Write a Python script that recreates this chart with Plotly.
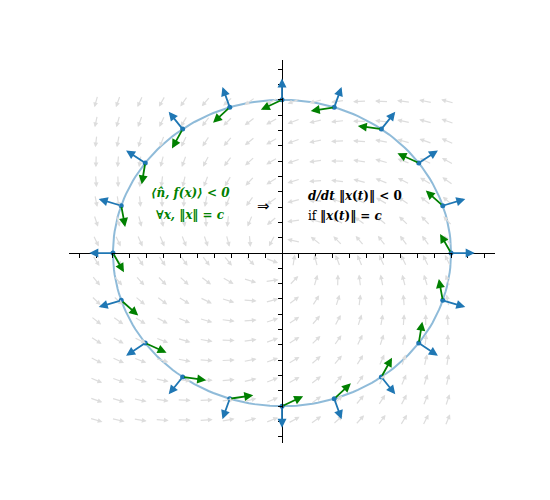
import numpy as np
import plotly.graph_objects as go

# linear field f(x) = A x, A = [[-a,-b],[b,-a]]
a_coef = 0.065
b_coef = 0.125
n_points = 20
normal_len = 0.14
grid_x = [-1.1, -0.97, -0.84, -0.71, -0.58, -0.45, -0.32, -0.19, -0.06, 0.07, 0.2, 0.33, 0.46, 0.59, 0.72, 0.85, 0.98]
grid_y = [0.99, 0.86, 0.73, 0.6, 0.47, 0.34, 0.21, 0.08, -0.05, -0.18, -0.31, -0.44, -0.57, -0.7, -0.83, -0.96, -1.09]
gray_len = 0.08

def f(x, y):
    return (-a_coef * x - b_coef * y, b_coef * x - a_coef * y)

fig = go.Figure()
ann = []
for gx in grid_x:
    for gy in grid_y:
        u, v = f(gx, gy)
        n = np.hypot(u, v)
        u, v = u / n * gray_len, v / n * gray_len
        ann.append(dict(x=gx + u / 2, y=gy + v / 2, ax=gx - u / 2, ay=gy - v / 2,
                        xref="x", yref="y", axref="x", ayref="y", text="",
                        showarrow=True, arrowhead=2, arrowsize=0.8, arrowwidth=1.2,
                        arrowcolor="#dddddd"))

t = np.linspace(0, 2 * np.pi, 200)
fig.add_trace(go.Scatter(x=np.cos(t), y=np.sin(t), mode="lines",
                         line=dict(color="rgba(31,119,180,0.5)", width=2), hoverinfo="skip"))
th = np.arange(n_points) * 2 * np.pi / n_points
px, py = np.cos(th), np.sin(th)
for x0, y0 in zip(px, py):
    ann.append(dict(x=x0 * (1 + normal_len), y=y0 * (1 + normal_len), ax=x0, ay=y0,
                    xref="x", yref="y", axref="x", ayref="y", text="", showarrow=True,
                    arrowhead=2, arrowsize=1, arrowwidth=1.8, arrowcolor="#1f77b4"))
    u, v = f(x0, y0)
    ann.append(dict(x=x0 + u, y=y0 + v, ax=x0, ay=y0,
                    xref="x", yref="y", axref="x", ayref="y", text="", showarrow=True,
                    arrowhead=2, arrowsize=1, arrowwidth=1.8, arrowcolor="#008000"))
fig.add_trace(go.Scatter(x=px, y=py, mode="markers", marker=dict(color="#1f77b4", size=5),
                         hoverinfo="skip"))

font = dict(family="DejaVu Serif", size=12)
ann += [
    dict(x=-0.54, y=0.39, text="<b><i>⟨n̂, f(x)⟩ &lt; 0</i></b>", showarrow=False,
         font=dict(font, color="#008000")),
    dict(x=-0.54, y=0.25, text="<b><i>∀x, ‖x‖ = c</i></b>", showarrow=False,
         font=dict(font, color="#008000")),
    dict(x=-0.11, y=0.31, text="⇒", showarrow=False,
         font=dict(family="DejaVu Sans", color="black", size=15)),
    dict(x=0.14, y=0.37, text="<b><i>d/dt</i> ‖<i>x</i>(<i>t</i>)‖ &lt; 0</b>", showarrow=False,
         xanchor="left", font=dict(font, color="black")),
    dict(x=0.14, y=0.24, text="if <b>‖<i>x</i>(<i>t</i>)‖ = <i>c</i></b>", showarrow=False,
         xanchor="left", font=dict(font, color="black")),
]

ax_common = dict(showgrid=False, zeroline=False, showticklabels=False, ticks="outside",
                 ticklen=4, tickcolor="black", dtick=0.1, tick0=0, showline=True,
                 linecolor="black", linewidth=1, automargin=False)
fig.update_layout(
    width=550, height=500, showlegend=False, plot_bgcolor="white", paper_bgcolor="white",
    margin=dict(l=61, r=63, t=52, b=65), annotations=ann,
    xaxis=dict(ax_common, range=[-1.26, 1.26], anchor="free", position=1.24 / 2.5),
    yaxis=dict(ax_common, range=[-1.24, 1.26], anchor="free", position=0.5),
)
fig.write_html("out.html")
